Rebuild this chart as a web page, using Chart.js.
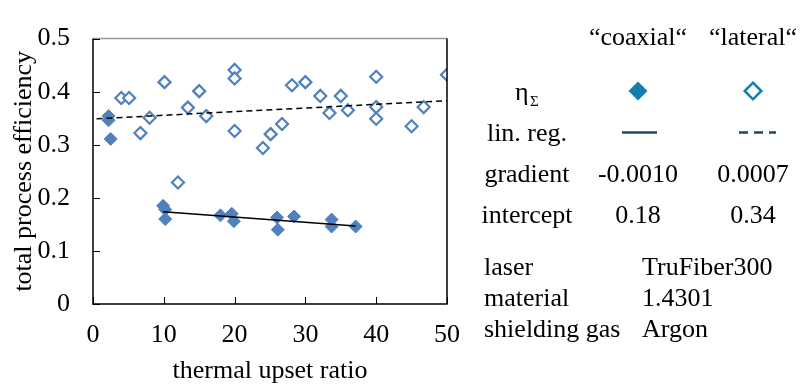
<!DOCTYPE html>
<html>
<head>
<meta charset="utf-8">
<script src="https://cdn.jsdelivr.net/npm/chart.js@4/dist/chart.umd.min.js"></script>
<style>
  html, body { margin: 0; padding: 0; background: #ffffff; }
  #wrap { width: 800px; height: 386px; position: relative; }
</style>
</head>
<body>
<div id="wrap"><canvas id="c" width="800" height="386"></canvas></div>
<script>
// ---- data ----
const coaxialX = [2.2, 2.2, 2.5, 9.9, 10.2, 10.2, 18.0, 19.6, 19.9, 26.0, 26.1, 28.4, 33.7, 33.7, 37.1];
const coaxialY = [0.354, 0.346, 0.311, 0.185, 0.178, 0.160, 0.167, 0.170, 0.156, 0.163, 0.140, 0.165, 0.159, 0.146, 0.146];

const lateralX = [4.0, 5.1, 6.7, 8.0, 10.1, 12.0, 13.4, 15.0, 16.0, 20.0, 20.0, 20.0, 24.0, 25.1, 26.7, 28.1, 30.0, 32.1, 33.4, 35.0, 36.0, 40.0, 40.0, 40.0, 45.0, 46.7, 50.0];
const lateralY = [0.388, 0.388, 0.322, 0.351, 0.418, 0.229, 0.370, 0.401, 0.354, 0.441, 0.425, 0.326, 0.294, 0.320, 0.339, 0.412, 0.418, 0.392, 0.360, 0.392, 0.365, 0.428, 0.371, 0.349, 0.335, 0.371, 0.432];

const coaxialFitX = [9.9, 37.1];
const coaxialFitY = [0.174, 0.147];
const lateralFitX = [0.5, 50];
const lateralFitY = [0.349, 0.383];

const xTickLabels = ['0', '10', '20', '30', '40', '50'];
const yTickLabels = ['0', '0.1', '0.2', '0.3', '0.4', '0.5'];

const xTitle = 'thermal upset ratio';
const yTitle = 'total process efficiency';

const tableHeader = ['\u201Ccoaxial\u201C', '\u201Clateral\u201C'];
const tableRows = ['lin. reg.', 'gradient', 'intercept'];
const gradientValues = ['-0.0010', '0.0007'];
const interceptValues = ['0.18', '0.34'];
const infoLabels = ['laser', 'material', 'shielding gas'];
const infoValues = ['TruFiber300', '1.4301', 'Argon'];

// ---- build ----
const toPts = (xs, ys) => xs.map((x, i) => ({ x: x, y: ys[i] }));
const FONT = '"Liberation Serif", "Times New Roman", serif';
const MARK = '#4f81bd';
const LEG = '#1280ab';
const LEGLINE = '#1d4a60';

const decor = {
  id: 'decor',
  afterDatasetsDraw(chart) {
    const ctx = chart.ctx;
    const a = chart.chartArea;
    const xs = chart.scales.x, ys = chart.scales.y;
    ctx.save();
    // frame
    ctx.lineWidth = 1.5;
    ctx.strokeStyle = '#999999';
    ctx.beginPath(); ctx.moveTo(a.left, a.top); ctx.lineTo(a.right, a.top); ctx.stroke();
    ctx.strokeStyle = '#000000';
    ctx.beginPath();
    ctx.moveTo(a.left, a.top); ctx.lineTo(a.left, a.bottom); ctx.lineTo(a.right, a.bottom); ctx.lineTo(a.right, a.top);
    ctx.stroke();
    // inward ticks
    ctx.lineWidth = 1;
    ctx.beginPath();
    ys.ticks.forEach(t => { const p = Math.round(ys.getPixelForValue(t.value)) + 0.5; ctx.moveTo(a.left, p); ctx.lineTo(a.left + 7, p); });
    xs.ticks.forEach(t => { const p = Math.round(xs.getPixelForValue(t.value)) + 0.5; ctx.moveTo(p, a.bottom); ctx.lineTo(p, a.bottom - 7); });
    ctx.stroke();

    // axis titles
    ctx.fillStyle = '#000000';
    ctx.font = '26px ' + FONT;
    ctx.textAlign = 'center';
    ctx.textBaseline = 'alphabetic';
    ctx.fillText(xTitle, (a.left + a.right) / 2, 378);
    ctx.save();
    ctx.translate(31, (a.top + a.bottom) / 2);
    ctx.rotate(-Math.PI / 2);
    ctx.fillText(yTitle, 0, 0);
    ctx.restore();

    // right-side table
    const c1 = 638, c2 = 753, cl = 527;
    ctx.textAlign = 'center';
    ctx.fillText(tableHeader[0], c1, 45);
    ctx.fillText(tableHeader[1], c2, 45);
    // eta sigma
    ctx.textAlign = 'left';
    ctx.fillText('\u03B7', 515, 100);
    ctx.font = '15px ' + FONT;
    ctx.fillText('\u03A3', 530, 106);
    ctx.font = '26px ' + FONT;
    ctx.textAlign = 'center';
    ctx.fillText(tableRows[0], cl, 141);
    ctx.fillText(tableRows[1], cl, 182);
    ctx.fillText(tableRows[2], cl, 223);
    ctx.fillText(gradientValues[0], c1, 182);
    ctx.fillText(gradientValues[1], c2, 182);
    ctx.fillText(interceptValues[0], c1, 223);
    ctx.fillText(interceptValues[1], c2, 223);

    // legend markers
    const diamond = (cx, cy, r) => { ctx.beginPath(); ctx.moveTo(cx, cy - r); ctx.lineTo(cx + r, cy); ctx.lineTo(cx, cy + r); ctx.lineTo(cx - r, cy); ctx.closePath(); };
    ctx.fillStyle = LEG;
    diamond(c1, 91, 9.5); ctx.fill();
    ctx.strokeStyle = LEG; ctx.lineWidth = 2.5;
    diamond(c2, 91, 8.3); ctx.stroke();
    // legend lines
    ctx.strokeStyle = LEGLINE; ctx.lineWidth = 2.5;
    ctx.beginPath(); ctx.moveTo(622, 132.5); ctx.lineTo(657, 132.5); ctx.stroke();
    ctx.setLineDash([9, 6]);
    ctx.beginPath(); ctx.moveTo(739, 132.5); ctx.lineTo(776, 132.5); ctx.stroke();
    ctx.setLineDash([]);

    // info block
    ctx.fillStyle = '#000000';
    ctx.textAlign = 'left';
    const base = [275, 306, 337];
    infoLabels.forEach((s, i) => ctx.fillText(s, 484, base[i]));
    infoValues.forEach((s, i) => ctx.fillText(s, 642, base[i]));
    ctx.restore();
  }
};

new Chart(document.getElementById('c'), {
  type: 'scatter',
  data: {
    datasets: [
      { label: 'coaxial fit', data: toPts(coaxialFitX, coaxialFitY), showLine: true, borderColor: '#000000', borderWidth: 1.5, pointRadius: 0, order: 0 },
      { label: 'lateral fit', data: toPts(lateralFitX, lateralFitY), showLine: true, borderColor: '#000000', borderWidth: 1.5, borderDash: [6, 4], pointRadius: 0, order: 0 },
      { label: 'coaxial', data: toPts(coaxialX, coaxialY), pointStyle: 'rectRot', pointRadius: 6.5, backgroundColor: MARK, borderColor: MARK, borderWidth: 1, order: 1 },
      { label: 'lateral', data: toPts(lateralX, lateralY), pointStyle: 'rectRot', pointRadius: 6, backgroundColor: '#ffffff', borderColor: MARK, borderWidth: 2.2, order: 1 }
    ]
  },
  options: {
    responsive: false,
    animation: false,
    devicePixelRatio: 1,
    layout: { padding: { top: 19, right: 353, bottom: 0, left: 0 } },
    plugins: { legend: { display: false }, tooltip: { enabled: false } },
    scales: {
      x: {
        type: 'linear', min: 0, max: 50,
        afterFit(s) { s.height = 82; },
        grid: { display: false, drawTicks: false },
        border: { display: false },
        ticks: { stepSize: 10, padding: 16, color: '#000000', font: { family: FONT, size: 26 },
                 callback: (v) => xTickLabels[Math.round(v / 10)] }
      },
      y: {
        type: 'linear', min: 0, max: 0.5,
        afterFit(s) { s.width = 93; },
        grid: { display: false, drawTicks: false },
        border: { display: false },
        ticks: { stepSize: 0.1, padding: 23, color: '#000000', font: { family: FONT, size: 26 },
                 callback: (v) => yTickLabels[Math.round(v * 10)] }
      }
    }
  },
  plugins: [decor]
});
</script>
</body>
</html>
